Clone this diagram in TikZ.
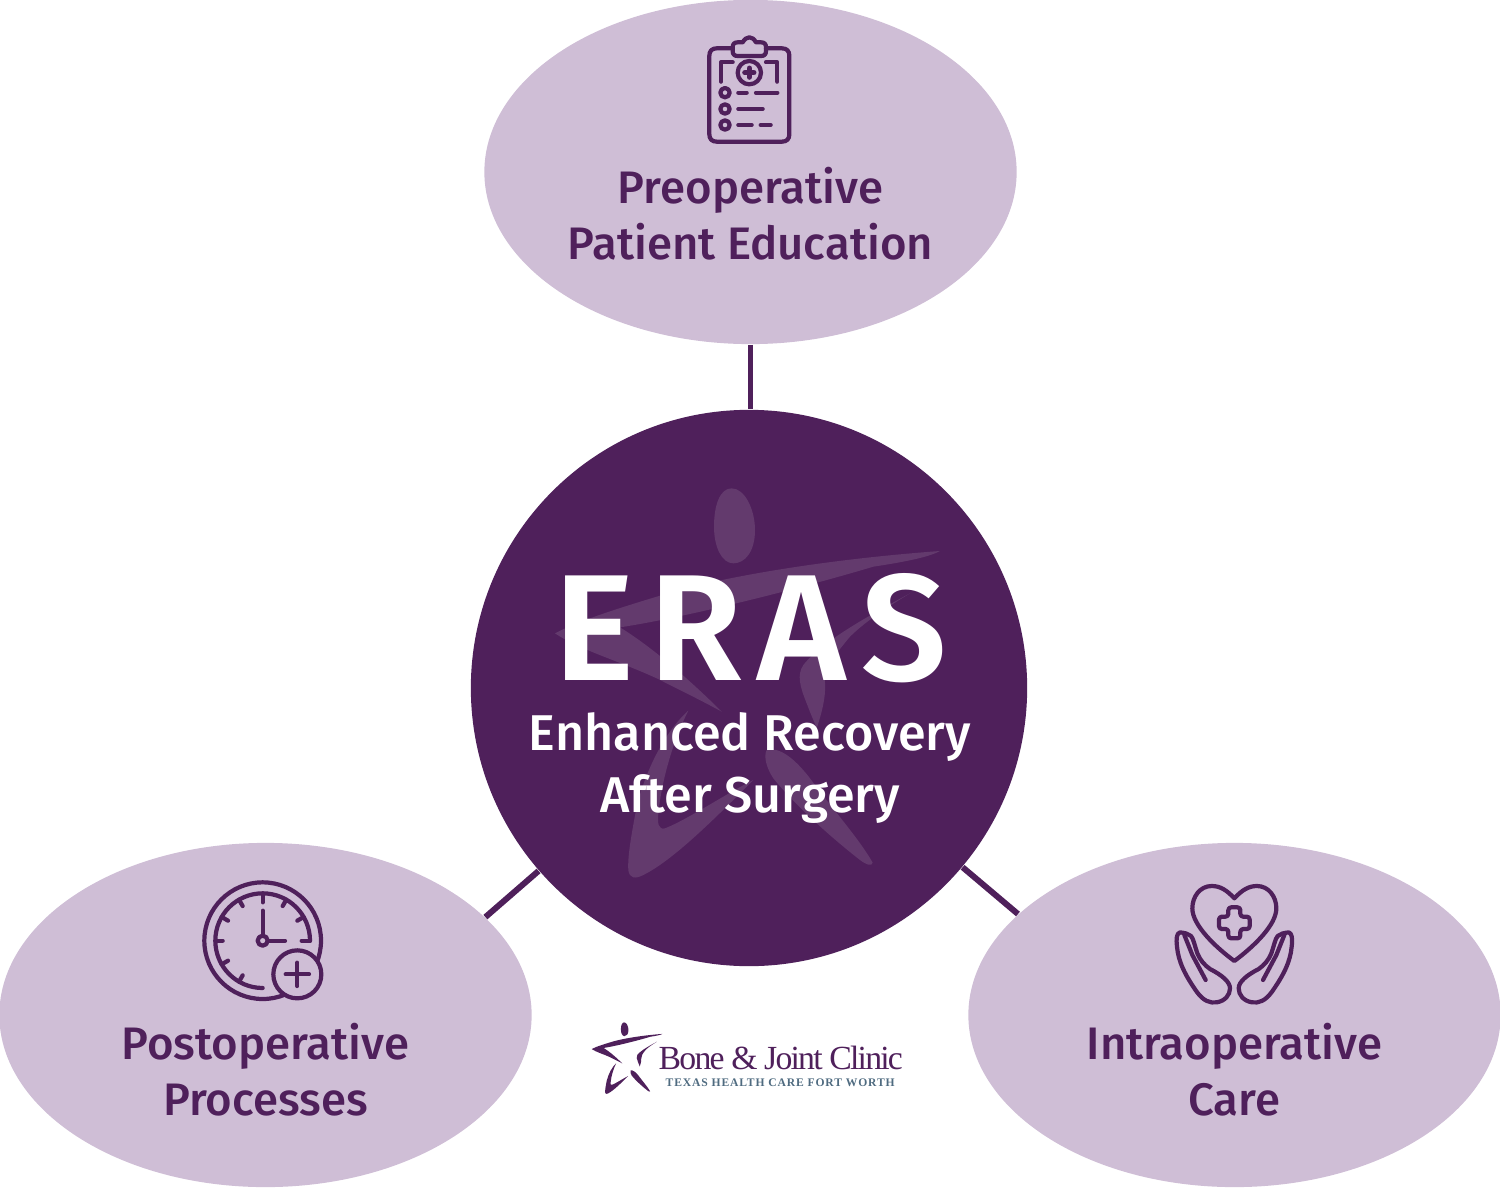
\documentclass[tikz,border=0pt]{standalone}
\usepackage{fontspec}
\usetikzlibrary{shapes.geometric}
\setmainfont{Fira Sans}[BoldFont={Fira Sans Medium},Ligatures=NoCommon]
\newfontfamily\erasfont{Fira Sans SemiBold}
\newfontfamily\logofont{Liberation Serif}
\definecolor{plum}{HTML}{4F205B}
\definecolor{lilac}{HTML}{CFBED6}
\definecolor{ghost}{HTML}{633A6D}
\definecolor{slate}{HTML}{4F6B80}
\tikzset{
  hubnode/.style={circle,fill=plum,minimum size=5.56cm,inner sep=0pt},
  petal/.style={ellipse,fill=lilac,minimum width=5.32cm,minimum height=3.44cm,inner sep=0pt},
  link/.style={draw=plum,line width=1.7pt},
  petaltext/.style={text=plum,align=center,font=\fontsize{12.95}{15.8}\selectfont\bfseries},
  icon/.style={draw=plum,line width=1.2pt,line cap=round,line join=round},
}
\newcommand{\runnerstar}[1]{%
  \fill[#1] (575,55) .. controls (615,55) and (645,120) .. (645,180) .. controls (645,245) and (615,280) .. (580,280) .. controls (545,280) and (522,230) .. (522,170) .. controls (522,105) and (540,55) .. (575,55) -- cycle;
  \fill[#1] (1200,243) .. controls (900,265) and (600,310) .. (400,365) .. controls (250,410) and (120,450) .. (45,490) .. controls (120,540) and (230,570) .. (350,625) .. controls (430,665) and (500,700) .. (545,725) .. controls (470,650) and (350,540) .. (240,472) .. controls (450,440) and (800,350) .. (1000,290) .. controls (1100,275) and (1170,260) .. (1200,243) -- cycle;
  \fill[#1] (1110,370) .. controls (1000,430) and (850,510) .. (790,585) .. controls (770,615) and (780,650) .. (800,700) .. controls (815,740) and (825,760) .. (830,775) .. controls (845,730) and (858,680) .. (855,640) .. controls (850,600) and (880,560) .. (930,500) .. controls (980,450) and (1060,400) .. (1110,370) -- cycle;
  \fill[#1] (445,722) .. controls (380,780) and (320,890) .. (290,1010) .. controls (275,1090) and (262,1160) .. (265,1200) .. controls (268,1225) and (285,1228) .. (310,1215) .. controls (400,1170) and (520,1050) .. (640,930) .. controls (560,970) and (440,1050) .. (375,1075) .. controls (355,1080) and (352,1060) .. (355,1030) .. controls (365,930) and (400,810) .. (445,722) -- cycle;
  \fill[#1] (680,840) .. controls (715,830) and (760,860) .. (810,925) .. controls (880,1020) and (960,1110) .. (998,1178) .. controls (995,1190) and (980,1185) .. (960,1170) .. controls (870,1100) and (760,1000) .. (700,925) .. controls (680,895) and (670,860) .. (680,840) -- cycle;
}
\begin{document}
\begin{tikzpicture}[x=0.01cm,y=-0.01cm]
\useasboundingbox (0,0) rectangle (1500,1188);
% nodes
\node[petal] (pre) at (750.5,172) {};
\node[petal] (post) at (265.5,1015) {};
\node[petal] (intra) at (1234.5,1015) {};
\node[hubnode] (hub) at (749,688) {};
% connectors
\draw[link] (pre.south) -- (pre.south |- hub.north);
\draw[link] (hub.221) -- (post.24);
\draw[link] (hub.-40.7) -- (intra.155);
% watermark
\begin{scope}[shift={(540,470)},scale=1/3]
\runnerstar{ghost}
\end{scope}
% hub text
\node[text=white,font=\fontsize{43}{43}\erasfont,anchor=base,inner sep=0pt,text height=105*0.2845pt,text depth=0pt] (eras) at (751,680) {\addfontfeature{LetterSpace=10}ERAS};
\node[text=white,align=center,font=\fontsize{14.3}{17.4}\selectfont\bfseries,inner sep=0pt] (sub) at (750,768) {Enhanced Recovery\\Af\kern0pt ter Surgery};
% petal text
\node[petaltext] (pretext) at (750.5,213.5) {Preoperative\\Patient Education};
\node[petaltext] (posttext) at (265.5,1069.5) {Postoperative\\Processes};
\node[petaltext] (intratext) at (1234.5,1069.5) {Intraoperative\\Care};
% clipboard icon
\begin{scope}[shift={(690,30)},scale=1/3]
\draw[icon] (128,55) -- (80,55) .. controls (66,55) and (58,63) .. (58,77) -- (58,313) .. controls (58,327) and (66,335) .. (80,335) -- (276,335) .. controls (290,335) and (298,327) .. (298,313) -- (298,77) .. controls (298,63) and (290,55) .. (276,55) -- (228,55);
\draw[icon] (143,37) -- (158,37) .. controls (164,27) and (170,22) .. (178,22) .. controls (186,22) and (192,27) .. (198,37) -- (213,37) .. controls (223,37) and (228,42) .. (228,52) -- (228,63) .. controls (228,73) and (223,78) .. (213,78) -- (143,78) .. controls (133,78) and (128,73) .. (128,63) -- (128,52) .. controls (128,42) and (133,37) .. (143,37) -- cycle;
\draw[icon] (93,155) -- (93,97) -- (128,97);
\draw[icon] (228,97) -- (262,97) -- (262,155);
\draw[icon] (178,128) circle (35);
\draw[icon,line width=1.6pt] (178,115) -- (178,141) (165,128) -- (191,128);
\foreach \yy in {188,237,285} {\draw[icon] (105,\yy) circle (14);}
\draw[icon] (145,188) -- (170,188) (198,188) -- (262,188);
\draw[icon] (145,237) -- (218,237);
\draw[icon] (145,285) -- (185,285) (212,285) -- (242,285);
\end{scope}
% clock icon
\begin{scope}[shift={(190,870)},scale=1/3]
\draw[icon] (218,212) circle (175);
\draw[icon] (360,212) arc[start angle=0,end angle=-270,radius=142];
\foreach \aa in {-30,-60,-120,-150,-180,-210,-240} {\draw[icon] (218,212) ++(\aa:120) -- ++(\aa:22);}
\draw[icon] (218,70) -- (218,97);
\draw[icon] (335,212) -- (360,212);
\draw[icon] (218,212) circle (15);
\draw[icon] (218,195) -- (218,122);
\draw[icon] (235,212) -- (285,212);
\draw[icon,fill=lilac] (322,313) circle (72);
\draw[icon] (322,278) -- (322,348) (287,313) -- (357,313);
\end{scope}
% hands and heart icon
\begin{scope}[shift={(1165,875)},scale=1/3]
\draw[icon] (208,70) .. controls (185,45) and (165,33) .. (140,33) .. controls (105,33) and (82,65) .. (82,100) .. controls (82,150) and (150,215) .. (208,258) .. controls (266,215) and (334,150) .. (334,100) .. controls (334,65) and (311,33) .. (276,33) .. controls (251,33) and (231,45) .. (208,70) -- cycle;
\draw[icon,rounded corners=0.8pt] (190,97) -- (226,97) -- (226,125) -- (254,125) -- (254,162) -- (226,162) -- (226,190) -- (190,190) -- (190,162) -- (162,162) -- (162,125) -- (190,125) -- cycle;
\foreach \sx/\ox in {1/0,-1/416} {
\begin{scope}[shift={(\ox,0)},xscale=\sx]
\draw[icon] (45,172) .. controls (35,175) and (33,190) .. (36,215) .. controls (40,260) and (60,300) .. (95,350) .. controls (115,378) and (135,385) .. (155,382) .. controls (180,378) and (195,360) .. (195,340) .. controls (195,320) and (170,300) .. (135,282) .. controls (118,270) and (105,255) .. (97,235) .. controls (90,215) and (85,190) .. (78,183) .. controls (70,176) and (60,174) .. (45,172) -- cycle;
\draw[icon] (58,180) -- (82,240) -- (122,315);
\end{scope}}
\end{scope}
% logo
\begin{scope}[shift={(588.9,1019)},scale=0.0613]
\runnerstar{plum}
\end{scope}
\node[text=plum,font=\fontsize{9.6}{11}\logofont,anchor=base west,inner sep=0pt] (logoname) at (658,1069) {\addfontfeature{LetterSpace=-5.3}Bone \& Joint Clinic};
\node[text=slate,font=\fontsize{3.3}{4}\logofont\bfseries,anchor=base west,inner sep=0pt] (logosub) at (665,1086) {\addfontfeature{LetterSpace=7.5}TEXAS HEALTH CARE FORT WORTH};
\end{tikzpicture}
\end{document}
